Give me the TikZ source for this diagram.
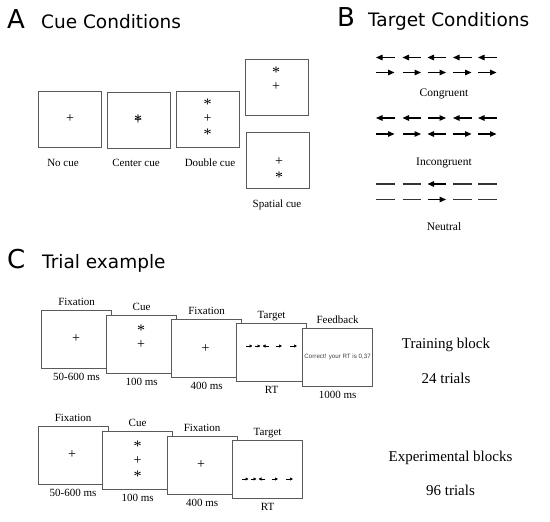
\documentclass[tikz,border=0pt]{standalone}
\usepackage{fontspec}
\setmainfont{Liberation Serif}
\newfontfamily\titlefont{DejaVu Sans}
\newfontfamily\tinysans{Liberation Sans}
\usetikzlibrary{arrows.meta}
\definecolor{boxgray}{HTML}{5A5A5A}
\begin{document}
\begin{tikzpicture}[x=1pt,y=-1pt,
  panel/.style={font=\titlefont\fontsize{26}{28}\selectfont, anchor=base west, inner sep=0},
  ptitle/.style={font=\titlefont\fontsize{18.5}{20}\selectfont, anchor=base west, inner sep=0},
  screenA/.style={draw=boxgray, line width=1.2pt, fill=white, anchor=north west, minimum width=63pt, minimum height=56pt, inner sep=0},
  screenC/.style={draw=boxgray, line width=1.2pt, fill=white, anchor=north west, minimum width=70pt, minimum height=58pt, inner sep=0},
  lbl/.style={font=\fontsize{11}{12}\selectfont, inner sep=0, anchor=base},
  lblB/.style={font=\fontsize{11.5}{12}\selectfont, inner sep=0, anchor=base},
  big/.style={font=\fontsize{15}{16}\selectfont, inner sep=0, anchor=base},
  plusS/.style={font=\fontsize{14}{14}\selectfont, inner sep=0, anchor=center, text height=7.1pt, text depth=0pt},
  astS/.style={font=\fontsize{16}{16}\selectfont, inner sep=0, anchor=center, text height=10.8pt, text depth=-4.2pt},
  flank/.style={line width=1.3pt, -{Triangle[length=6.5pt,width=5.5pt]}},
  dashl/.style={line width=1.2pt, black!80},
  tiny/.style={line width=0.7pt, -{Triangle[length=3pt,width=3pt]}},
  fb/.style={font=\tinysans\fontsize{6.2}{7}\selectfont, text=black!75, inner sep=0}
]
\useasboundingbox (0,0) rectangle (550,522);

% ---------------- Panel A ----------------
\node[panel] (pA) at (7,28) {A};
\node[ptitle] (tA) at (41,28) {Cue Conditions};

\node[screenA] (nocue) at (38,91) {};
\node[screenA] (center) at (106.5,92) {};
\node[screenA] (double) at (176,91) {};
\node[screenA] (spatT) at (245,59) {};
\node[screenA] (spatB) at (245.5,131.5) {};

\node[plusS] (a1p) at (70,119) {+};
\node[plusS] (a2p) at (138,120.5) {+};
\node[astS] (a2a) at (138,120.5) {*};
\node[astS] (a3a1) at (207.5,104) {*};
\node[plusS] (a3p) at (207.5,118.5) {+};
\node[astS] (a3a2) at (207.5,134) {*};
\node[astS] (a4a) at (276,72) {*};
\node[plusS] (a4p) at (276,87) {+};
\node[plusS] (a5p) at (279,162) {+};
\node[astS] (a5a) at (279,177) {*};

\node[lbl] (lnocue) at (63,166) {No cue};
\node[lbl] (lcenter) at (136,166) {Center cue};
\node[lbl] (ldouble) at (210,166) {Double cue};
\node[lbl] (lspat) at (277,207) {Spatial cue};

% ---------------- Panel B ----------------
\node[panel] (pB) at (337,27) {B};
\node[ptitle] (tB) at (368,27) {Target Conditions};

% congruent
\foreach \x in {376,402.5,427.5,453,478}{
  \draw[flank] (\x+18.5,57.5) -- (\x,57.5);
  \draw[flank] (\x,72.5) -- (\x+18.5,72.5);
}
\node[lblB] (lcong) at (444,96) {Congruent};
% incongruent
\foreach \x in {376,402.5,453,478}{
  \draw[flank] (\x+18.5,118) -- (\x,118);
  \draw[flank] (\x,134) -- (\x+18.5,134);
}
\draw[flank] (427.5,118) -- (427.5+18.5,118);
\draw[flank] (427.5+18.5,134) -- (427.5,134);
\node[lblB] (lincong) at (444,165) {Incongruent};
% neutral
\foreach \x in {376,402.5,453,478}{
  \draw[dashl] (\x,184) -- (\x+18.5,184);
  \draw[dashl] (\x,199.5) -- (\x+18.5,199.5);
}
\draw[flank] (427.5+18.5,184) -- (427.5,184);
\draw[flank] (427.5,199.5) -- (427.5+18.5,199.5);
\node[lblB] (lneut) at (444,230) {Neutral};

% ---------------- Panel C ----------------
\node[panel] (pC) at (7,268) {C};
\node[ptitle] (tC) at (42,268) {Trial example};

% training block
\node[screenC] (t1) at (41,310) {};
\node[screenC] (t2) at (106,315) {};
\node[screenC] (t3) at (171,319) {};
\node[screenC] (t4) at (236,323) {};
\node[screenC] (t5) at (302,328) {};

\node[lbl] (t1u) at ([yshift=4.5pt]t1.north) {Fixation};
\node[lbl] (t2u) at ([yshift=4.5pt]t2.north) {Cue};
\node[lbl] (t3u) at ([yshift=4.5pt]t3.north) {Fixation};
\node[lbl] (t4u) at ([yshift=4.5pt]t4.north) {Target};
\node[lbl] (t5u) at ([yshift=4.5pt]t5.north) {Feedback};
\node[lbl] (t1d) at ([yshift=-11pt]t1.south) {50-600 ms};
\node[lbl] (t2d) at ([yshift=-11pt]t2.south) {100 ms};
\node[lbl] (t3d) at ([yshift=-11pt]t3.south) {400 ms};
\node[lbl] (t4d) at ([yshift=-11pt]t4.south) {RT};
\node[lbl] (t5d) at ([yshift=-11pt]t5.south) {1000 ms};

\node[plusS] (t1p) at (76,339) {+};
\node[astS] (t2a) at (141,330) {*};
\node[plusS] (t2p) at (141,345) {+};
\node[plusS] (t3p) at (205.5,348.5) {+};
\draw[tiny] (236+10,346) -- (236+16.5,346);
\draw[tiny] (236+18.5,346) -- (236+24.5,346);
\draw[tiny] (236+33,346) -- (236+26.5,346);
\draw[tiny] (236+39.5,346) -- (236+46,346);
\draw[tiny] (236+53.5,346) -- (236+61,346);
\node[fb] (t5txt) at ([yshift=0.5pt]t5.center) {Correct! your RT is 0,37};

\node[big] (trb) at (446,348) {Training block};
\node[big] (tr24) at (446,383) {24 trials};

% experimental blocks
\node[screenC] (e1) at (37.5,426) {};
\node[screenC] (e2) at (102,431) {};
\node[screenC] (e3) at (166.5,436) {};
\node[screenC] (e4) at (232,440) {};

\node[lbl] (e1u) at ([yshift=4.5pt]e1.north) {Fixation};
\node[lbl] (e2u) at ([yshift=4.5pt]e2.north) {Cue};
\node[lbl] (e3u) at ([yshift=4.5pt]e3.north) {Fixation};
\node[lbl] (e4u) at ([yshift=4.5pt]e4.north) {Target};
\node[lbl] (e1d) at ([yshift=-11pt]e1.south) {50-600 ms};
\node[lbl] (e2d) at ([yshift=-11pt]e2.south) {100 ms};
\node[lbl] (e3d) at ([yshift=-11pt]e3.south) {400 ms};
\node[lbl] (e4d) at ([yshift=-11pt]e4.south) {RT};

\node[plusS] (e1p) at (72,455) {+};
\node[astS] (e2a1) at (137.5,446.5) {*};
\node[plusS] (e2p) at (137.5,461) {+};
\node[astS] (e2a2) at (137.5,476) {*};
\node[plusS] (e3p) at (201,465) {+};
\draw[tiny] (232+10,479) -- (232+16.5,479);
\draw[tiny] (232+18.5,479) -- (232+24.5,479);
\draw[tiny] (232+33,479) -- (232+26.5,479);
\draw[tiny] (232+39.5,479) -- (232+46,479);
\draw[tiny] (232+53.5,479) -- (232+61,479);

\node[big] (exb) at (450.5,461) {Experimental blocks};
\node[big] (ex96) at (450.5,495) {96 trials};
\end{tikzpicture}
\end{document}
